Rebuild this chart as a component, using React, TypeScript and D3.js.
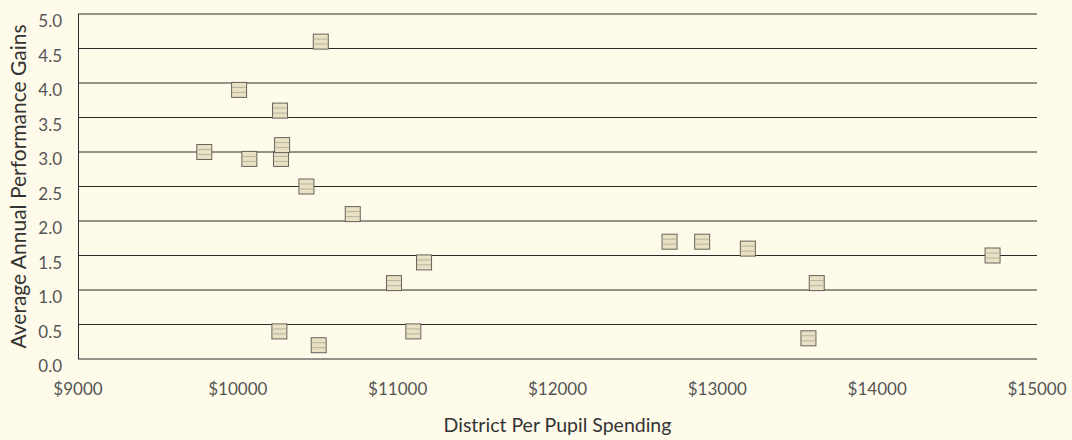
import React, { useEffect, useRef } from "react";
import * as d3 from "d3";

// district spending ($) vs average annual performance gains
const spending = [
  9790, 10008, 10072, 10270, 10277, 10264, 10260, 10519, 10429, 10506,
  10719, 10977, 11165, 11098, 12701, 12905, 13191, 13570, 13622, 14722,
];
const gains = [
  3.0, 3.9, 2.9, 2.9, 3.1, 3.6, 0.4, 4.6, 2.5, 0.2,
  2.1, 1.1, 1.4, 0.4, 1.7, 1.7, 1.6, 0.3, 1.1, 1.5,
];
const xTicks = [9000, 10000, 11000, 12000, 13000, 14000, 15000];
const yTicks = [0, 0.5, 1, 1.5, 2, 2.5, 3, 3.5, 4, 4.5, 5];

const W = 1072;
const H = 440;
const FONT = "Lato, 'Open Sans', sans-serif";

const App = () => {
  const svgRef = useRef<SVGSVGElement | null>(null);

  useEffect(() => {
    const margin = { top: 14, right: 35, bottom: 81, left: 78 };
    const width = W - margin.left - margin.right;
    const height = H - margin.top - margin.bottom;

    const root = d3.select(svgRef.current);
    root.selectAll("*").remove();
    root.append("rect").attr("width", W).attr("height", H).attr("fill", "#fffbea");

    const svg = root
      .append("g")
      .attr("transform", `translate(${margin.left},${margin.top})`);

    const x = d3.scaleLinear().domain([9000, 15000]).range([0, width]);
    const y = d3.scaleLinear().domain([0, 5]).range([height, 0]);

    // gridlines
    svg
      .selectAll("line.grid")
      .data(yTicks)
      .enter()
      .append("line")
      .attr("class", "grid")
      .attr("x1", 0)
      .attr("x2", width)
      .attr("y1", (d) => y(d))
      .attr("y2", (d) => y(d))
      .attr("stroke", "#2a2a2a")
      .attr("stroke-width", 1);

    // left axis line
    svg
      .append("line")
      .attr("x1", 0.5)
      .attr("x2", 0.5)
      .attr("y1", 0)
      .attr("y2", height)
      .attr("stroke", "#2a2a2a");

    // y tick labels
    svg
      .selectAll("text.ytick")
      .data(yTicks)
      .enter()
      .append("text")
      .attr("class", "ytick")
      .attr("x", -16)
      .attr("y", (d) => y(d) + 13)
      .attr("text-anchor", "end")
      .attr("font-family", FONT)
      .attr("font-size", 17)
      .attr("fill", "#555")
      .text((d) => d3.format(".1f")(d));

    // x tick labels
    svg
      .selectAll("text.xtick")
      .data(xTicks)
      .enter()
      .append("text")
      .attr("class", "xtick")
      .attr("x", (d) => x(d))
      .attr("y", height + 36)
      .attr("text-anchor", "middle")
      .attr("font-family", FONT)
      .attr("font-size", 17)
      .attr("fill", "#555")
      .text((d) => `$${d}`);

    // axis titles
    svg
      .append("text")
      .attr("x", width / 2)
      .attr("y", height + 73)
      .attr("text-anchor", "middle")
      .attr("font-family", FONT)
      .attr("font-size", 19.5)
      .attr("fill", "#333")
      .text("District Per Pupil Spending");

    svg
      .append("text")
      .attr("transform", `translate(${-52},${height / 2}) rotate(-90)`)
      .attr("text-anchor", "middle")
      .attr("font-family", FONT)
      .attr("font-size", 21)
      .attr("fill", "#333")
      .text("Average Annual Performance Gains");

    // striped square markers
    const s = 15;
    const pts = spending.map((v, i) => ({ x: v, y: gains[i] }));
    const m = svg
      .selectAll("g.pt")
      .data(pts)
      .enter()
      .append("g")
      .attr("class", "pt")
      .attr("transform", (d) => `translate(${x(d.x) - s / 2},${y(d.y) - s / 2})`);

    m.append("rect")
      .attr("width", s)
      .attr("height", s)
      .attr("fill", "#e9e1c3")
      .attr("stroke", "#66625a")
      .attr("stroke-width", 1);

    [s / 3, (2 * s) / 3].forEach((yy) => {
      m.append("line")
        .attr("x1", 0.5)
        .attr("x2", s - 0.5)
        .attr("y1", yy)
        .attr("y2", yy)
        .attr("stroke", "#b8b2a0")
        .attr("stroke-width", 1);
    });
  }, []);

  return (
    <svg
      ref={svgRef}
      width={W}
      height={H}
      style={{ position: "absolute", left: 0, top: 0 }}
    />
  );
};

export default App;
